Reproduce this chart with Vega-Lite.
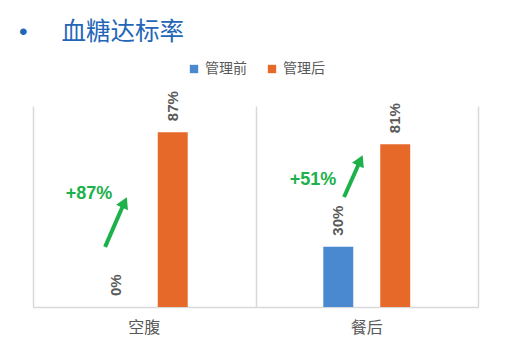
{
  "$schema": "https://vega.github.io/schema/vega-lite/v6.json",
  "width": 445,
  "height": 201,
  "autosize": {"type": "none"},
  "padding": {"left": 33, "top": 106, "right": 29, "bottom": 47},
  "background": "#ffffff",
  "config": {"view": {"stroke": null}, "font": "Liberation Sans, Noto Sans CJK SC"},
  "title": {
    "text": "•\u00a0\u00a0\u00a0\u00a0\u00a0血糖达标率",
    "anchor": "start",
    "frame": "group",
    "dx": -14,
    "offset": 17,
    "font": "Liberation Sans, Noto Sans CJK SC",
    "fontSize": 24.5,
    "fontWeight": "normal",
    "color": "#2366B8"
  },
  "datasets": {
    "bars": [
      {"cat": "空腹", "grp": "管理前", "v": 0, "label": "0%"},
      {"cat": "空腹", "grp": "管理后", "v": 0.87, "label": "87%"},
      {"cat": "餐后", "grp": "管理前", "v": 0.30, "label": "30%"},
      {"cat": "餐后", "grp": "管理后", "v": 0.81, "label": "81%"}
    ],
    "arrows": [
      {"arrow": "a1", "ax": 0.324, "ay": 0.299},
      {"arrow": "a1", "ax": 0.411, "ay": 0.521},
      {"arrow": "a2", "ax": 1.398, "ay": 0.547},
      {"arrow": "a2", "ax": 1.471, "ay": 0.729}
    ],
    "heads": [
      {"arrow": "a1", "ax": 0.411, "ay": 0.521},
      {"arrow": "a2", "ax": 1.471, "ay": 0.729}
    ],
    "notes": [
      {"ax": 0.252, "ay": 0.562, "text": "+87%"},
      {"ax": 1.258, "ay": 0.632, "text": "+51%"}
    ]
  },
  "layer": [
    {
      "data": {"name": "bars"},
      "encoding": {
        "x": {
          "field": "cat",
          "type": "nominal",
          "sort": ["空腹", "餐后"],
          "scale": {"paddingInner": 0, "paddingOuter": 0},
          "axis": {
            "title": null,
            "labelAngle": 0,
            "labelFont": "Noto Sans CJK SC",
            "labelFontSize": 16,
            "labelColor": "#595959",
            "labelPadding": 12,
            "ticks": false,
            "domainColor": "#D9D9D9",
            "domainWidth": 1.5,
            "grid": false
          }
        },
        "xOffset": {
          "field": "grp",
          "type": "nominal",
          "scale": {"domain": ["_l", "管理前", "管理后", "_r"], "paddingInner": 0.474, "paddingOuter": 0.19}
        },
        "y": {
          "field": "v",
          "type": "quantitative",
          "scale": {"domain": [0, 1], "nice": false},
          "axis": null
        }
      },
      "layer": [
        {
          "mark": {"type": "bar"},
          "encoding": {
            "color": {
              "field": "grp",
              "type": "nominal",
              "sort": ["管理前", "管理后"],
              "scale": {"domain": ["管理前", "管理后"], "range": ["#4A89D0", "#E6692A"]},
              "legend": {
                "title": null,
                "orient": "none",
                "legendX": 154,
                "legendY": -44,
                "direction": "horizontal",
                "symbolType": "square",
                "symbolSize": 70,
                "symbolStrokeWidth": 0,
                "labelFont": "Noto Sans CJK SC",
                "labelFontSize": 14,
                "labelColor": "#595959",
                "columnPadding": 18,
                "labelOffset": 4
              }
            }
          }
        },
        {
          "mark": {
            "type": "text",
            "angle": -90,
            "align": "left",
            "baseline": "middle",
            "dx": 11,
            "fontSize": 15,
            "fontWeight": "bold",
            "color": "#595959"
          },
          "encoding": {"text": {"field": "label"}}
        }
      ]
    },
    {
      "encoding": {
        "x": {
          "field": "ax",
          "type": "quantitative",
          "scale": {"domain": [0, 2], "nice": false, "zero": false},
          "axis": {
            "orient": "top",
            "grid": true,
            "values": [0, 1, 2],
            "labels": false,
            "ticks": false,
            "domain": false,
            "title": null,
            "gridColor": "#D9D9D9",
            "gridWidth": 1.5
          }
        },
        "y": {"field": "ay", "type": "quantitative", "scale": {"domain": [0, 1], "nice": false}, "axis": null}
      },
      "layer": [
        {
          "data": {"name": "arrows"},
          "mark": {"type": "line", "color": "#1DB14B", "strokeWidth": 4, "strokeCap": "butt"},
          "encoding": {"detail": {"field": "arrow"}}
        },
        {
          "data": {"name": "heads"},
          "mark": {"type": "point", "shape": "triangle-up", "filled": true, "size": 170, "angle": 25, "color": "#1DB14B", "opacity": 1}
        },
        {
          "data": {"name": "notes"},
          "mark": {"type": "text", "fontSize": 18, "fontWeight": "bold", "color": "#1DB14B", "align": "center", "baseline": "middle"},
          "encoding": {"text": {"field": "text"}}
        }
      ]
    }
  ],
  "resolve": {"scale": {"x": "independent"}}
}
